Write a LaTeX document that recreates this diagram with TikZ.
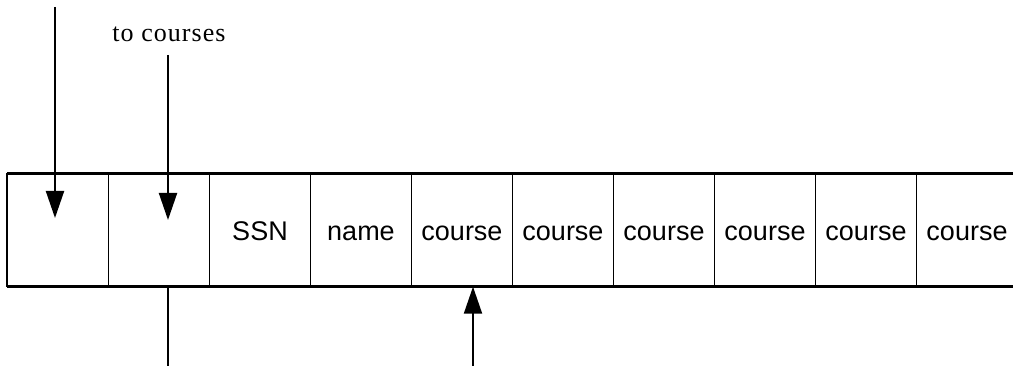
\documentclass[tikz,border=0pt]{standalone}
\usepackage{fontspec}
\setmainfont{Liberation Serif}
\setsansfont{Liberation Sans}
\newfontfamily\spacedserif[LetterSpace=4]{Liberation Serif}
\usetikzlibrary{arrows.meta}
\begin{document}
\begin{tikzpicture}[x=1pt,y=-1pt,
  cell/.style={draw, line width=1.4pt, minimum width=101pt, minimum height=112pt,
    inner sep=0pt, text height=22pt, text depth=0pt,
    font=\sffamily\fontsize{27}{30}\selectfont},
  arr/.style={line width=2pt, -{Triangle[length=27pt,width=18pt]}},
  plain/.style={line width=2pt},
  lbl/.style={font=\spacedserif\fontsize{26}{30}\selectfont, inner sep=0pt, anchor=base}]
\useasboundingbox (0,0) rectangle (1013,366);
\clip (0,0) rectangle (1013,366);
\foreach \i/\t in {0/,1/,2/SSN,3/name,4/course,5/course,6/course,7/course,8/course,9/course}{
  \node[cell] (c\i) at (58+101*\i,230) {\t};
}
\draw[line width=2.2pt] (c0.north west) -- (c9.north east);
\draw[line width=2.2pt] (c0.south west) -- (c9.south east);
\draw[line width=2pt] (c0.north west) -- (c0.south west);
\node[lbl] (tc) at (169,41.7) {to courses};
\coordinate (s1) at (55,7);
\coordinate (t1) at (55,218);
\coordinate (s2) at (168,55);
\coordinate (t2) at (168,220);
\coordinate (b2) at (168,366);
\coordinate (s3) at (473,366);
\draw[arr] (s1) -- (t1);
\draw[arr] (s2) -- (t2);
\draw[plain] (b2) -- (b2 |- c1.south);
\draw[arr] (s3) -- (s3 |- c4.south);
\end{tikzpicture}
\end{document}
